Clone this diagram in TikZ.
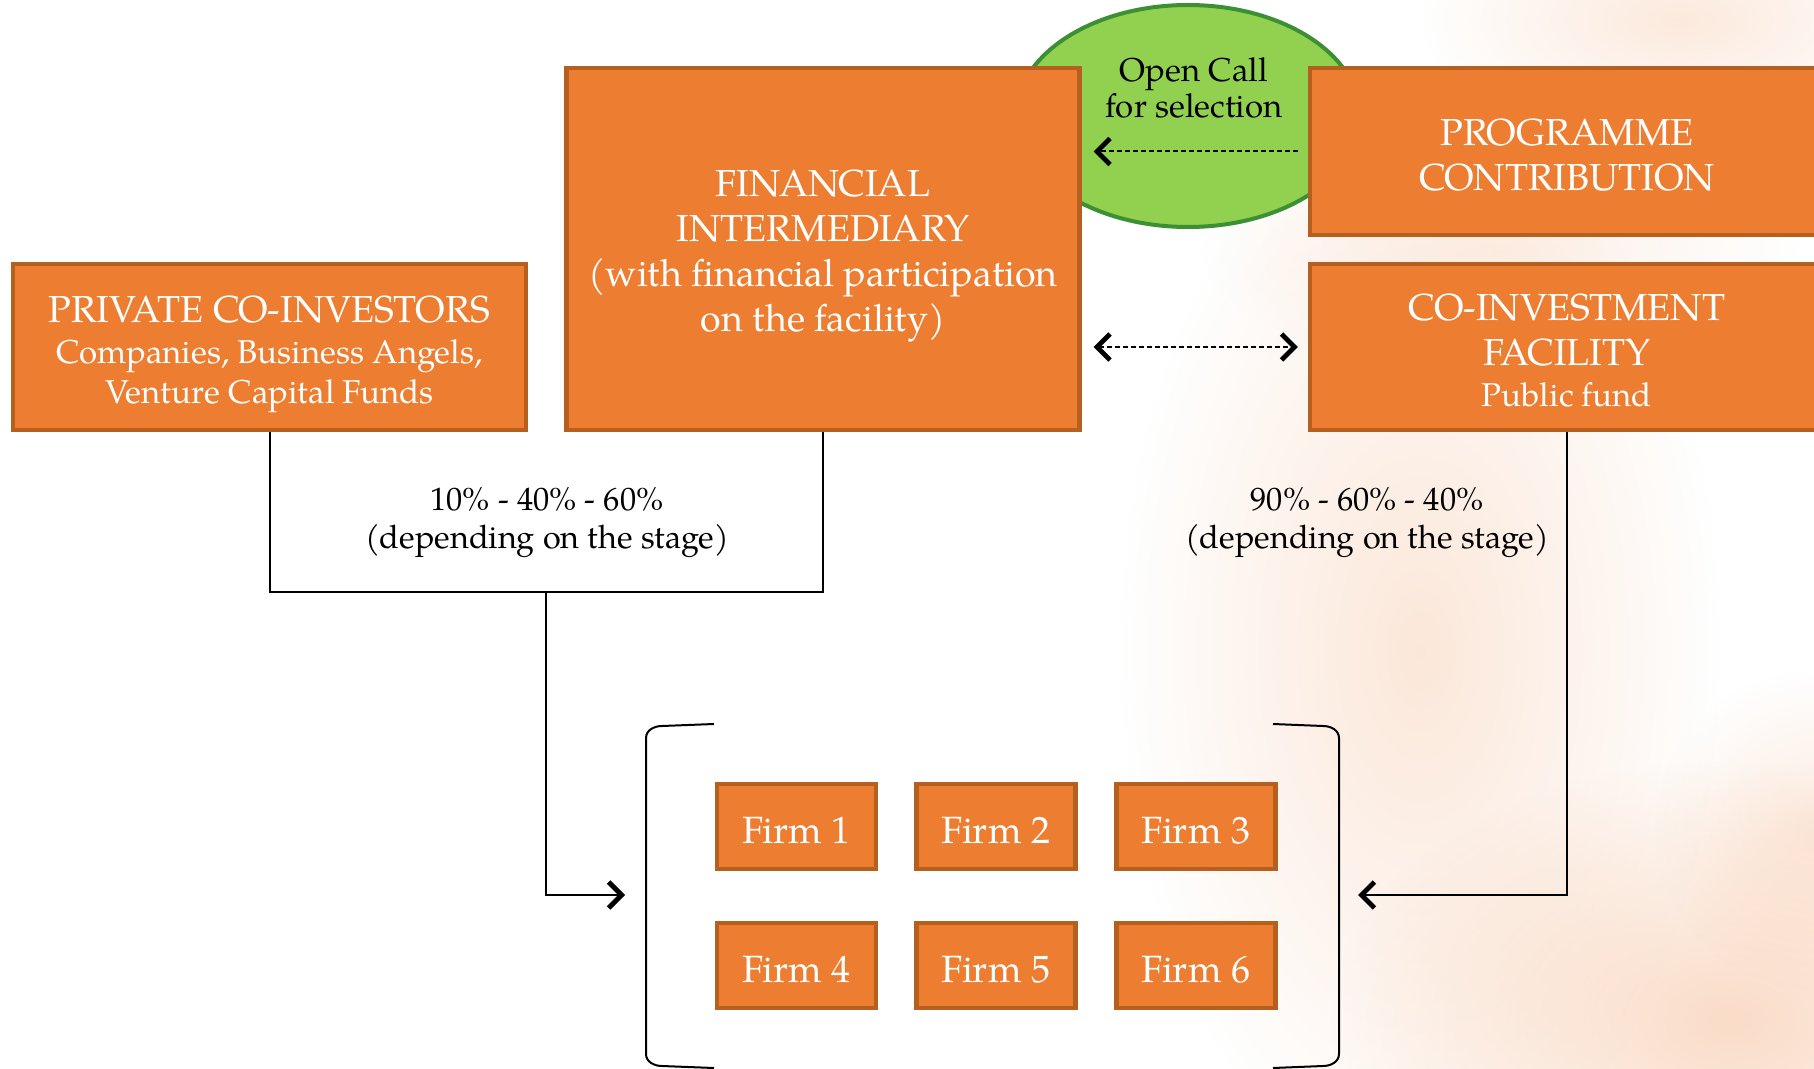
\documentclass[tikz,border=0pt]{standalone}
\usepackage{fontspec}
\setmainfont{TeX Gyre Pagella}
\usetikzlibrary{arrows.meta,fadings,shapes.geometric}
\definecolor{ofill}{HTML}{ED7D31}
\definecolor{odraw}{HTML}{B5601F}
\definecolor{gfill}{HTML}{92D050}
\definecolor{gdraw}{HTML}{3C8F33}
\definecolor{peach}{HTML}{F4B183}
\newcommand\subfs{\fontsize{16.5}{20}\selectfont}
\tikzfading[name=blobfade, inner color=transparent!0, outer color=transparent!100]
\tikzset{
  obox/.style={draw=odraw, fill=ofill, line width=2.1pt, inner sep=0pt},
  bigbox/.style={obox, minimum width=256.5pt},
  btxt/.style={text=white, align=center, inner sep=0pt, font=\fontsize{18.8}{22.5}\selectfont},
  firmbox/.style={obox, text=white, minimum width=79.5pt, minimum height=42.5pt, text height=16.8pt, text depth=0pt, font=\fontsize{19}{22}\selectfont},
  conn/.style={line width=1pt, draw=black},
  barb/.tip={Straight Barb[length=6.5pt,width=13pt,line width=2.4pt]},
  tip/.style={-barb},
  dashline/.style={line width=1pt, dash pattern=on 2.5pt off 1.5pt},
  pct/.style={align=center, font=\fontsize{16.2}{19}\selectfont},
  blob/.style={fill=peach, path fading=blobfade}
}
\begin{document}
\begin{tikzpicture}[x=0.5pt,y=-0.5pt]
\useasboundingbox[fill=white] (0,0) rectangle (1814,1069);
% background blobs
\fill[blob, fill opacity=0.30] (1420,650) ellipse[x radius=150pt, y radius=270pt];
\fill[blob, fill opacity=0.45] (1730,1020) ellipse[x radius=200pt, y radius=130pt];
\fill[blob, fill opacity=0.28] (1680,20) ellipse[x radius=130pt, y radius=60pt];
\fill[blob, fill opacity=0.25] (1814,830) circle[radius=80pt];
\fill[blob, fill opacity=0.20] (1500,250) ellipse[x radius=150pt, y radius=60pt];

% ellipse
\node[ellipse, draw=gdraw, fill=gfill, line width=2pt, minimum width=172pt, minimum height=111pt] (call) at (1188,116) {};
\node[align=center, font=\fontsize{16.5}{18}\selectfont] (calltxt) at (1194,88) {Open Call\\for selection};

% main boxes
\node[bigbox, minimum height=83pt] (priv) at (269.5,347) {};
\node[btxt] (privtxt) at ([yshift=-3.5pt]priv.center) {PRIVATE CO-INVESTORS\\[-2pt]{\subfs Companies, Business Angels,}\\[-2.5pt]{\subfs Venture Capital Funds}};
\node[bigbox, minimum height=181pt] (fin) at (823,249) {};
\node[btxt] (fintxt) at ([yshift=-3.5pt]fin.center) {FINANCIAL\\INTERMEDIARY\\(with financial participation\\on the facility)};
\node[bigbox, minimum width=257pt, minimum height=83.5pt] (prog) at (1567,151.5) {};
\node[btxt] (progtxt) at ([yshift=-1.75pt]prog.center) {PROGRAMME\\CONTRIBUTION};
\node[bigbox, minimum width=257pt, minimum height=83pt] (coinv) at (1567,347) {};
\node[btxt] (coinvtxt) at ([yshift=-2pt]coinv.center) {CO-INVESTMENT\\FACILITY\\[-2pt]{\subfs Public fund}};

% dashed arrows
\draw[dashline, tip, shorten <=5pt, shorten >=6pt] (prog.west) -- (fin.east |- prog.west);
\draw[dashline, barb-barb, shorten <=6pt, shorten >=5pt] (fin.east |- coinv.west) -- (coinv.west);

% percentages
\node[pct] (pl) at (547,523) {10\% - 40\% - 60\%\\(depending on the stage)};
\node[pct] (pr) at (1367,523) {90\% - 60\% - 40\%\\(depending on the stage)};

% connectors
\coordinate (hl) at (546,592);
\coordinate (lt) at (625,895);
\coordinate (rt) at (1358,895);
\draw[conn] (priv.south) |- (hl) -| (fin.south);
\draw[conn, tip] (hl) |- (lt);
\draw[conn, tip] (coinv.south) |- (rt);

% brackets
\draw[conn] (714,724) -- (662,726) to[out=180,in=90] (646,738) -- (646,1054) to[out=-90,in=180] (662,1066) -- (714,1068);
\draw[conn] (1273,724) -- (1323,726) to[out=0,in=90] (1339,738) -- (1339,1054) to[out=-90,in=0] (1323,1066) -- (1273,1068);

% firms
\node[firmbox] (f1) at (796.5,826.5) {Firm 1};
\node[firmbox] (f2) at (996,826.5) {Firm 2};
\node[firmbox] (f3) at (1196,826.5) {Firm 3};
\node[firmbox] (f4) at (796.5,965.5) {Firm 4};
\node[firmbox] (f5) at (996,965.5) {Firm 5};
\node[firmbox] (f6) at (1196,965.5) {Firm 6};
\end{tikzpicture}
\end{document}
